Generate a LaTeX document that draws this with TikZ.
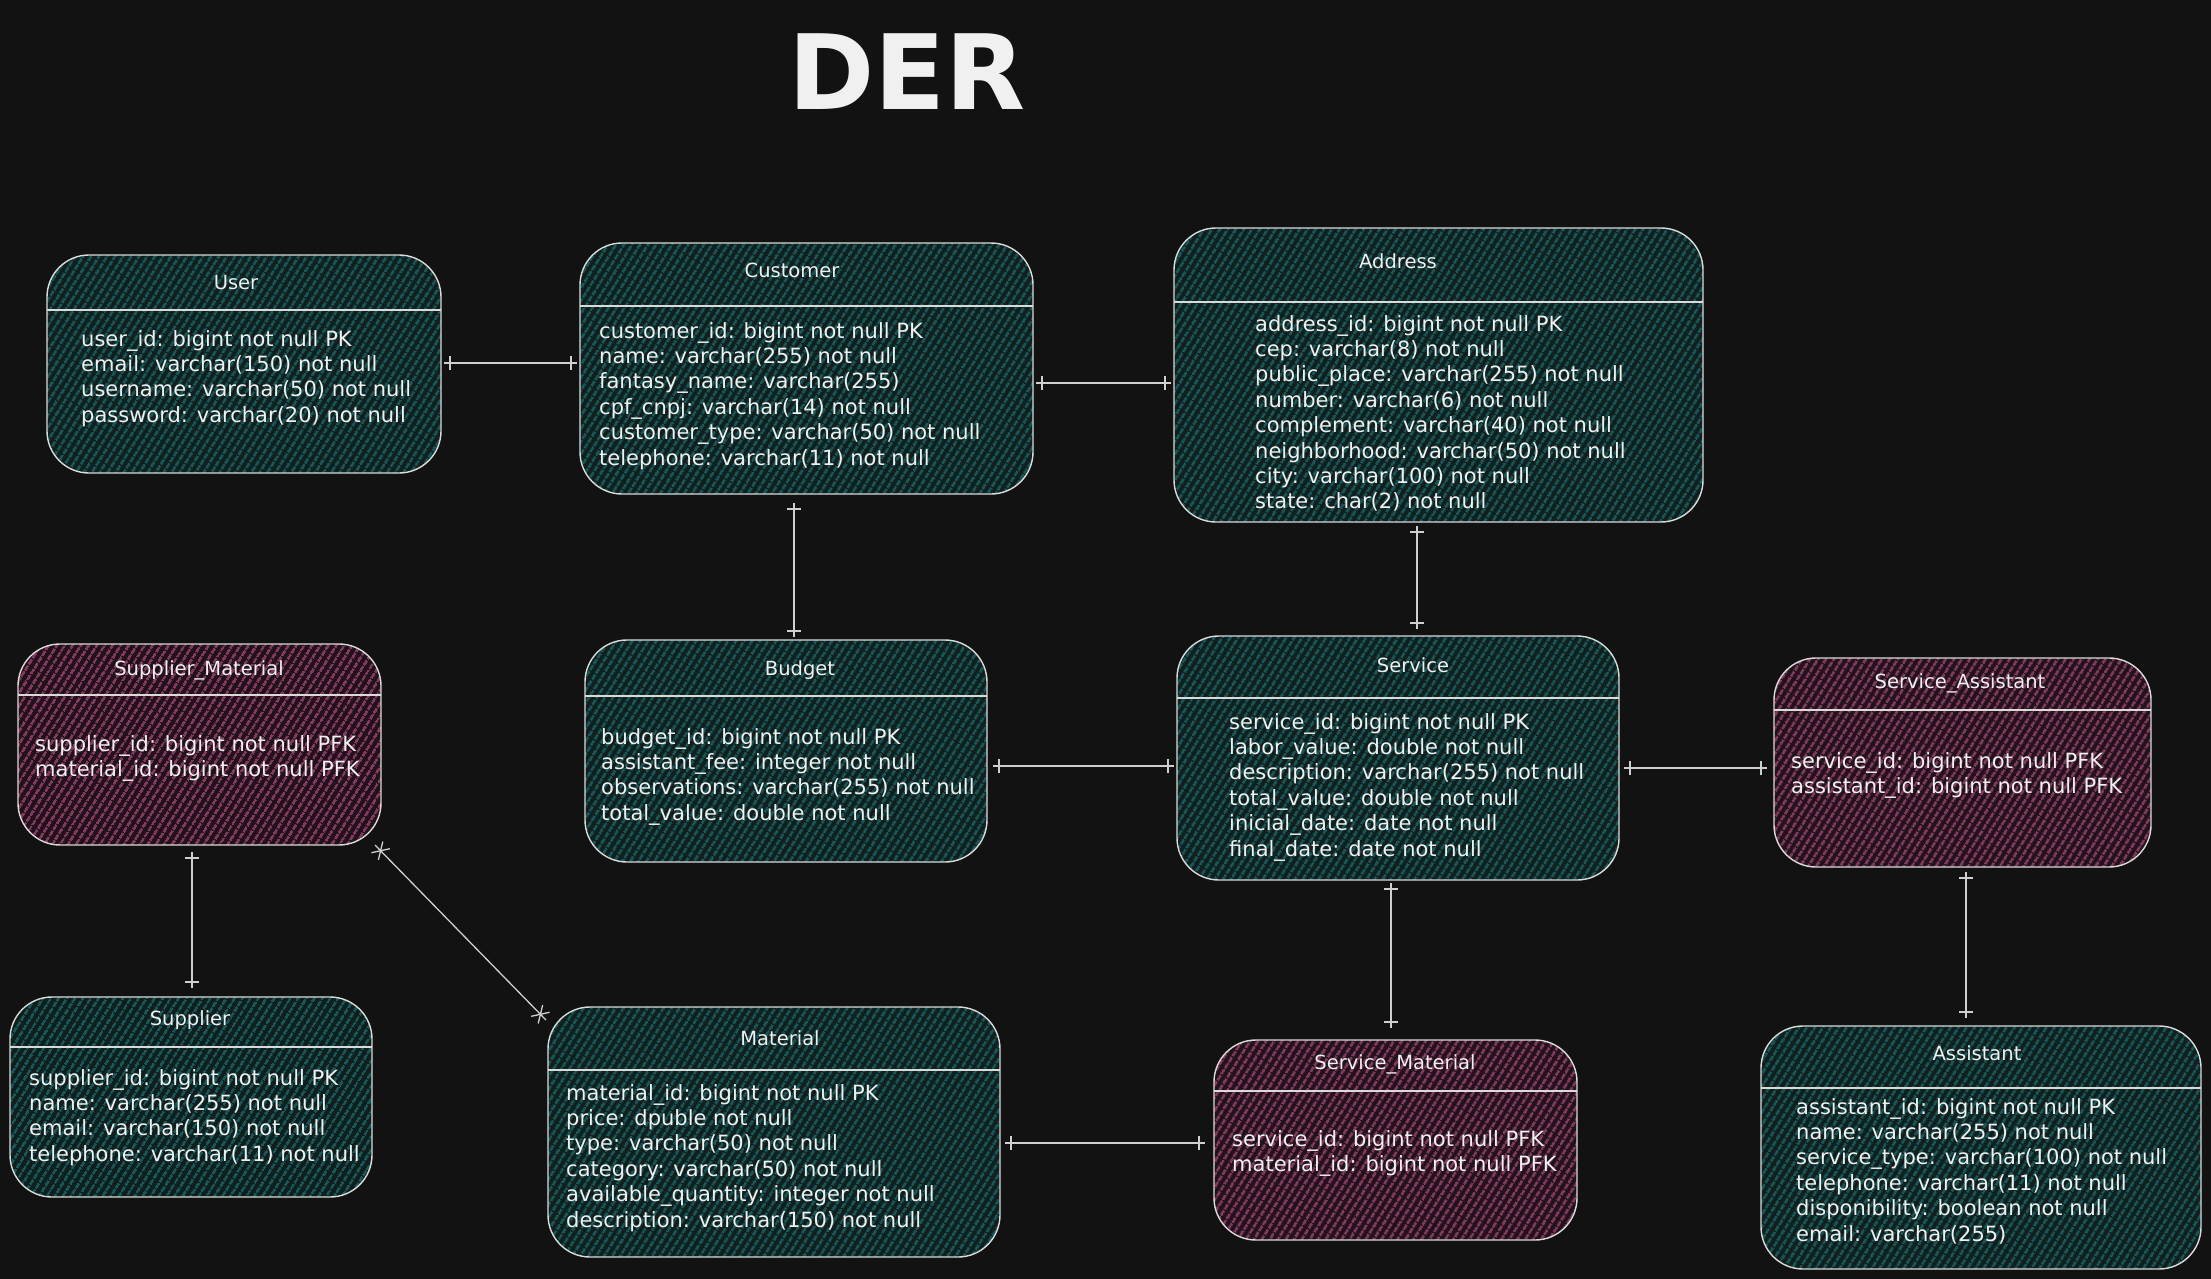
\documentclass[tikz,border=0pt]{standalone}
\usepackage{fontspec}
\setmainfont{DejaVu Sans}
\usetikzlibrary{patterns.meta,decorations.markings,calc}
\definecolor{bg}{HTML}{121212}
\definecolor{fg}{HTML}{F0F0F0}
\definecolor{edge}{HTML}{DADADA}
\definecolor{conncol}{HTML}{CFCFCF}
\definecolor{tealbase}{HTML}{141C1C}
\definecolor{tealline}{HTML}{0F5B5A}
\definecolor{pinkbase}{HTML}{1C1419}
\definecolor{pinkline}{HTML}{8A3560}
\begin{document}
\begin{tikzpicture}[x=1pt,y=-1pt,
  tbase/.style={draw=edge, line width=1.4pt, rounded corners=42pt, inner sep=0pt, outer sep=0pt},
  tealbox/.style={tbase, preaction={fill=tealbase}, pattern={Lines[angle=58,distance=6.5pt,line width=3pt]}, pattern color=tealline},
  pinkbox/.style={tbase, preaction={fill=pinkbase}, pattern={Lines[angle=58,distance=6.5pt,line width=3pt]}, pattern color=pinkline},
  hdr/.style={draw=edge, line width=2pt},
  ttl/.style={text=fg, font=\fontsize{19.5}{23}\selectfont, inner sep=0pt},
  attr/.style={text=fg, font=\fontsize{21}{25.4}\selectfont, align=left, anchor=north west, inner sep=0pt},
  conn/.style={draw=conncol, line width=1.3pt},
  onebar/.style={postaction={decorate,decoration={markings,
     mark=at position 6pt with {\draw[conn] (0pt,-7pt)--(0pt,7pt);},
     mark=at position -6pt with {\draw[conn] (0pt,-7pt)--(0pt,7pt);}}}},
  xends/.style={postaction={decorate,decoration={markings,
     mark=at position 8pt with {\draw[conn] (-5pt,-8pt)--(5pt,8pt); \draw[conn] (5pt,-8pt)--(-5pt,8pt);},
     mark=at position -8pt with {\draw[conn] (-5pt,-8pt)--(5pt,8pt); \draw[conn] (5pt,-8pt)--(-5pt,8pt);}}}}
]
\useasboundingbox (0,0) rectangle (2211,1279);
\fill[bg] (0,0) rectangle (2211,1279);

% Title
\node[text=fg, font=\bfseries\fontsize{104}{114}\selectfont, inner sep=0pt] (der) at (907,72) {DER};

% Boxes
\node[tealbox, minimum width=394pt, minimum height=218pt] (user) at (244,364) {};
\node[tealbox, minimum width=453pt, minimum height=251pt] (customer) at (806.5,368.5) {};
\node[tealbox, minimum width=529pt, minimum height=294pt] (address) at (1438.5,375) {};
\node[pinkbox, minimum width=363pt, minimum height=201pt] (supmat) at (199.5,744.5) {};
\node[tealbox, minimum width=402pt, minimum height=222pt] (budget) at (786,751) {};
\node[tealbox, minimum width=442pt, minimum height=244pt] (service) at (1398,758) {};
\node[pinkbox, minimum width=377pt, minimum height=209pt] (servass) at (1962.5,762.5) {};
\node[tealbox, minimum width=362pt, minimum height=200pt] (supplier) at (191,1097) {};
\node[tealbox, minimum width=452pt, minimum height=250pt] (material) at (774,1132) {};
\node[pinkbox, minimum width=363pt, minimum height=200pt] (servmat) at (1395.5,1140) {};
\node[tealbox, minimum width=440pt, minimum height=243pt] (assistant) at (1981,1147.5) {};

% Header lines
\draw[hdr] (user.west|-0,310) -- (user.east|-0,310);
\draw[hdr] (customer.west|-0,306) -- (customer.east|-0,306);
\draw[hdr] (address.west|-0,302) -- (address.east|-0,302);
\draw[hdr] (supmat.west|-0,695) -- (supmat.east|-0,695);
\draw[hdr] (budget.west|-0,696) -- (budget.east|-0,696);
\draw[hdr] (service.west|-0,698) -- (service.east|-0,698);
\draw[hdr] (servass.west|-0,710) -- (servass.east|-0,710);
\draw[hdr] (supplier.west|-0,1047) -- (supplier.east|-0,1047);
\draw[hdr] (material.west|-0,1070) -- (material.east|-0,1070);
\draw[hdr] (servmat.west|-0,1091) -- (servmat.east|-0,1091);
\draw[hdr] (assistant.west|-0,1088) -- (assistant.east|-0,1088);

% Titles
\node[ttl] (userT) at (236,283) {User};
\node[ttl] (customerT) at (792,270) {Customer};
\node[ttl] (addressT) at (1398,261) {Address};
\node[ttl] (supmatT) at (199,670) {Supplier\_Material};
\node[ttl] (budgetT) at (800,670) {Budget};
\node[ttl] (serviceT) at (1413,665) {Service};
\node[ttl] (servassT) at (1960,683) {Service\_Assistant};
\node[ttl] (supplierT) at (190,1020) {Supplier};
\node[ttl] (materialT) at (780,1038) {Material};
\node[ttl] (servmatT) at (1395,1064) {Service\_Material};
\node[ttl] (assistantT) at (1977,1053) {Assistant};

% Attributes
\node[attr] (userA) at (81,330) {user\_id: bigint not null PK\\email: varchar(150) not null\\username: varchar(50) not null\\password: varchar(20) not null};
\node[attr] (customerA) at (599,322) {customer\_id: bigint not null PK\\name: varchar(255) not null\\fantasy\_name: varchar(255)\\cpf\_cnpj: varchar(14) not null\\customer\_type: varchar(50) not null\\telephone: varchar(11) not null};
\node[attr] (addressA) at (1255,315) {address\_id: bigint not null PK\\cep: varchar(8) not null\\public\_place: varchar(255) not null\\number: varchar(6) not null\\complement: varchar(40) not null\\neighborhood: varchar(50) not null\\city: varchar(100) not null\\state: char(2) not null};
\node[attr] (supmatA) at (35,735) {supplier\_id: bigint not null PFK\\material\_id: bigint not null PFK};
\node[attr] (budgetA) at (601,728) {budget\_id: bigint not null PK\\assistant\_fee: integer not null\\observations: varchar(255) not null\\total\_value: double not null};
\node[attr] (serviceA) at (1229,713) {service\_id: bigint not null PK\\labor\_value: double not null\\description: varchar(255) not null\\total\_value: double not null\\inicial\_date: date not null\\final\_date: date not null};
\node[attr] (servassA) at (1791,752) {service\_id: bigint not null PFK\\assistant\_id: bigint not null PFK};
\node[attr] (supplierA) at (29,1069) {supplier\_id: bigint not null PK\\name: varchar(255) not null\\email: varchar(150) not null\\telephone: varchar(11) not null};
\node[attr] (materialA) at (566,1084) {material\_id: bigint not null PK\\price: dpuble not null\\type: varchar(50) not null\\category: varchar(50) not null\\available\_quantity: integer not null\\description: varchar(150) not null};
\node[attr] (servmatA) at (1232,1130) {service\_id: bigint not null PFK\\material\_id: bigint not null PFK};
\node[attr] (assistantA) at (1796,1098) {assistant\_id: bigint not null PK\\name: varchar(255) not null\\service\_type: varchar(100) not null\\telephone: varchar(11) not null\\disponibility: boolean not null\\email: varchar(255)};

% Connectors
\draw[conn,onebar] ($(user.east|-0,363)+(3,0)$) -- ($(customer.west|-0,363)+(-3,0)$);
\draw[conn,onebar] ($(customer.east|-0,383)+(3,0)$) -- ($(address.west|-0,383)+(-3,0)$);
\draw[conn,onebar] ($(customer.south-|794,0)+(0,9)$) -- ($(budget.north-|794,0)+(0,-3)$);
\draw[conn,onebar] ($(address.south-|1417,0)+(0,4)$) -- ($(service.north-|1417,0)+(0,-7)$);
\draw[conn,onebar] ($(budget.east|-0,766)+(6,0)$) -- ($(service.west|-0,766)+(-3,0)$);
\draw[conn,onebar] ($(service.east|-0,768)+(5,0)$) -- ($(servass.west|-0,768)+(-7,0)$);
\draw[conn,onebar] ($(service.south-|1391,0)+(0,3)$) -- ($(servmat.north-|1391,0)+(0,-12)$);
\draw[conn,onebar] ($(servass.south-|1966,0)+(0,5)$) -- ($(assistant.north-|1966,0)+(0,-8)$);
\draw[conn,onebar] ($(supmat.south-|192,0)+(0,7)$) -- ($(supplier.north-|192,0)+(0,-9)$);
\draw[conn,xends] ($(supmat.south east)+(-6,0)$) -- ($(material.north west)+(-2,13)$);
\draw[conn,onebar] ($(material.east|-0,1143)+(5,0)$) -- ($(servmat.west|-0,1143)+(-9,0)$);
\end{tikzpicture}
\end{document}
